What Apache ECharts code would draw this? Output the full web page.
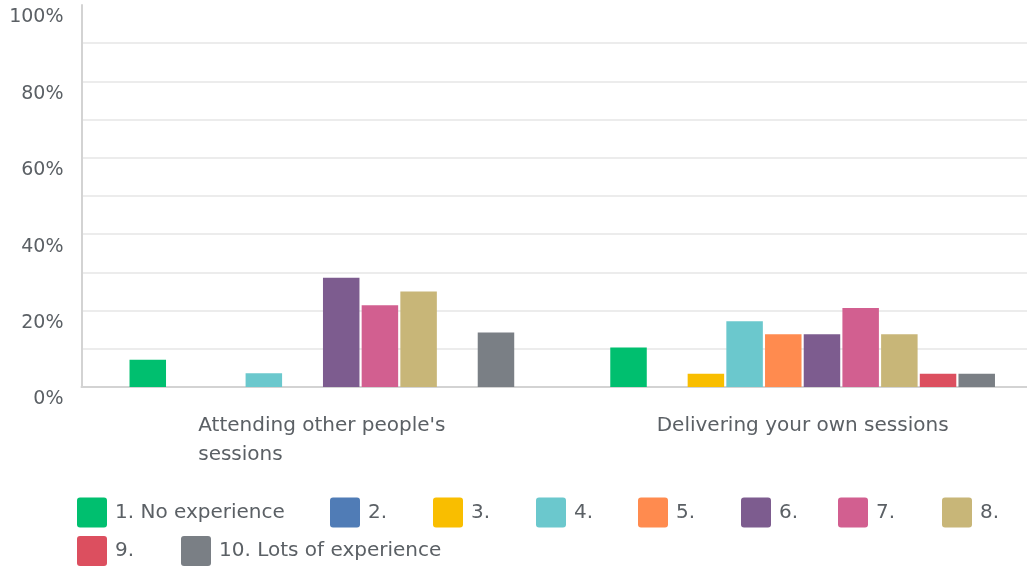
<!DOCTYPE html>
<html>
<head>
<meta charset="utf-8">
<script src="https://cdn.jsdelivr.net/npm/echarts@6/dist/echarts.min.js"></script>
<style>
  html, body { margin: 0; padding: 0; background: #fff; overflow: hidden; }
  #chart { width: 1043px; height: 570px; }
</style>
</head>
<body>
<div id="chart"></div>
<script>
// Experience ratings (share of respondents, %) for two activities
const categories = ["Attending other people's sessions", "Delivering your own sessions"];
const ratingNames = ['1. No experience', '2.', '3.', '4.', '5.', '6.', '7.', '8.', '9.', '10. Lots of experience'];
const ratingColors = ['#00BF6F', '#507CB6', '#F9BE00', '#6BC8CD', '#FF8B4F', '#7D5C8F', '#D25F90', '#C8B678', '#DC4F5F', '#7A7F85'];
const attending  = [7.14, 0, 0, 3.57, 0, 28.57, 21.43, 25.00, 0, 14.29];
const delivering = [10.34, 0, 3.45, 17.24, 13.79, 13.79, 20.69, 13.79, 3.45, 3.45];
const yTicks = [0, 20, 40, 60, 80, 100];

const FONT = '"DejaVu Sans", sans-serif';
const TEXT_COLOR = '#5b6065';

// wrap a category name into lines of at most maxChars characters
function wrapWords(text, maxChars) {
  const words = text.split(' ');
  const lines = [];
  let cur = '';
  words.forEach(w => {
    const next = cur ? cur + ' ' + w : w;
    if (next.length > maxChars && cur) { lines.push(cur); cur = w; }
    else cur = next;
  });
  if (cur) lines.push(cur);
  return lines;
}

const roundSquare = 'path://M3,0H27A3,3 0 0 1 30,3V27A3,3 0 0 1 27,30H3A3,3 0 0 1 0,27V3A3,3 0 0 1 3,0Z';

const series = ratingNames.map((name, i) => ({
  name: name,
  type: 'bar',
  barWidth: 36.5,
  barGap: '6%',
  itemStyle: { color: ratingColors[i] },
  data: [attending[i], delivering[i]]
}));

// key laid out as a two-row grid, one legend block per rating
const legendSlots = [
  [77, 497.5], [330, 497.5], [433, 497.5], [536, 497.5], [638, 497.5],
  [741, 497.5], [838, 497.5], [942, 497.5],
  [77, 536], [181, 536]
];
const legends = ratingNames.map((name, i) => ({
  left: legendSlots[i][0],
  top: legendSlots[i][1],
  padding: 0,
  itemWidth: 30,
  itemHeight: 30,
  icon: roundSquare,
  textStyle: { fontSize: 20, color: TEXT_COLOR, padding: [0, 0, 0, 3], fontFamily: FONT },
  data: [name]
}));

const chart = echarts.init(document.getElementById('chart'), null, { renderer: 'canvas' });
chart.setOption({
  animation: false,
  textStyle: { fontFamily: FONT },
  grid: { left: 81.5, top: 5, right: 0, height: 382, containLabel: false },
  xAxis: {
    type: 'category',
    data: categories,
    axisLine: { show: true, lineStyle: { color: '#d3d3d3', width: 2 } },
    axisTick: { show: false },
    axisLabel: {
      margin: 24,
      interval: 0,
      formatter: v => wrapWords(v, 28).map(l => '{t|' + l + '}').join('\n'),
      rich: {
        t: { align: 'left', fontSize: 20, lineHeight: 29, color: TEXT_COLOR, fontFamily: FONT }
      }
    }
  },
  yAxis: {
    type: 'value',
    min: 0,
    max: 100,
    interval: 10,
    axisLine: { show: true, lineStyle: { color: '#d3d3d3', width: 2 } },
    axisTick: { show: false },
    splitLine: { show: true, showMaxLine: false, lineStyle: { color: '#ececec', width: 2 } },
    axisLabel: {
      margin: 18,
      fontSize: 19,
      lineHeight: 25,
      color: TEXT_COLOR,
      verticalAlign: 'top',
      formatter: v => (yTicks.indexOf(v) >= 0 ? v + '%' : '')
    }
  },
  legend: legends,
  series: series
});
</script>
</body>
</html>
